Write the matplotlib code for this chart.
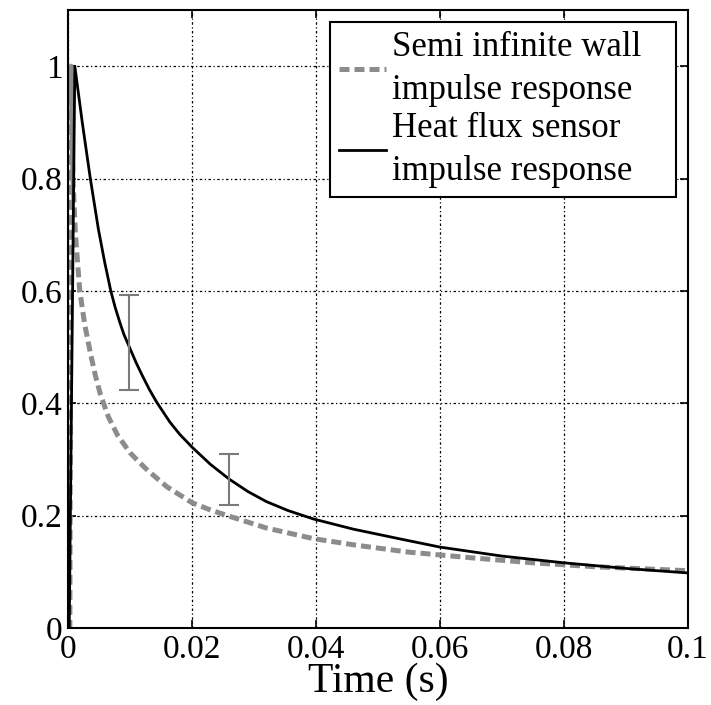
import numpy as np
import matplotlib.pyplot as plt

plt.rcParams['font.family'] = ['Liberation Serif', 'DejaVu Serif']

# semi infinite wall impulse response
t_wall = [0, 0.0003, 0.0005, 0.0008, 0.0012, 0.0019, 0.0027, 0.0036, 0.0044,
          0.0052, 0.0065, 0.008, 0.01, 0.0115, 0.0129, 0.016, 0.02, 0.023,
          0.026, 0.032, 0.0396, 0.0467, 0.055, 0.065, 0.075, 0.085, 0.1]
y_wall = [0, 0, 1.0, 0.8, 0.7, 0.6, 0.54, 0.49, 0.45,
          0.417, 0.376, 0.343, 0.312, 0.295, 0.28, 0.251, 0.223, 0.21,
          0.199, 0.178, 0.159, 0.147, 0.135, 0.125, 0.116, 0.109, 0.102]

# heat flux sensor impulse response
t_sensor = [0, 0.0002, 0.0011, 0.0023, 0.0036, 0.0049, 0.0059, 0.0069, 0.0076,
            0.0083, 0.009, 0.0099, 0.011, 0.012, 0.0131, 0.0143, 0.0164, 0.018,
            0.02, 0.023, 0.026, 0.029, 0.032, 0.0355, 0.0396, 0.046, 0.0538,
            0.06, 0.07, 0.08, 0.09, 0.1]
y_sensor = [0, 0, 1.0, 0.9, 0.8, 0.71, 0.652, 0.6, 0.571,
            0.546, 0.523, 0.5, 0.472, 0.449, 0.425, 0.402, 0.367, 0.345,
            0.322, 0.291, 0.265, 0.243, 0.225, 0.209, 0.194, 0.176, 0.158,
            0.144, 0.128, 0.116, 0.106, 0.098]

# error bars
t_err = [0.0099, 0.0259]
y_lo = [0.424, 0.219]
y_hi = [0.593, 0.31]

fig = plt.figure(figsize=(7.11, 7.05), dpi=100)
ax = fig.add_axes([68/711, 77/705, 620/711, 618/705])

ax.plot(t_wall, y_wall, color='#8c8c8c', lw=3.6, linestyle=(0, (2, 1)),
        label='Semi infinite wall   \nimpulse response')
ax.plot(t_sensor, y_sensor, color='black', lw=2.0,
        label='Heat flux sensor\nimpulse response   ')

y_mid = [(a + b) / 2 for a, b in zip(y_lo, y_hi)]
y_half = [(b - a) / 2 for a, b in zip(y_lo, y_hi)]
ax.errorbar(t_err, y_mid, yerr=y_half, fmt='none', ecolor='#7a7a7a',
            elinewidth=1.5, capsize=7, capthick=1.5)

ax.set_xlim(0, 0.1)
ax.set_ylim(0, 1.1)
ax.set_xticks([0, 0.02, 0.04, 0.06, 0.08, 0.1])
ax.set_xticklabels(['0', '0.02', '0.04', '0.06', '0.08', '0.1'])
ax.set_yticks([0, 0.2, 0.4, 0.6, 0.8, 1.0])
ax.set_yticklabels(['0', '0.2', '0.4', '0.6', '0.8', '1'])
ax.tick_params(direction='in', top=True, right=True, length=6, width=1.2,
               labelsize=24)
ax.tick_params(axis='x', pad=5)
ax.tick_params(axis='y', pad=4)
ax.grid(True, color='black', lw=0.9, linestyle=(0, (2, 2, 1, 2)))
for s in ax.spines.values():
    s.set_linewidth(1.5)

ax.set_xlabel('Time (s)', fontsize=30, labelpad=-2)

leg = ax.legend(loc='upper right', fontsize=25, handlelength=1.35,
                handletextpad=0.17, borderpad=0.25, labelspacing=0.15,
                fancybox=False, framealpha=1, borderaxespad=0.35)
for txt in leg.get_texts():
    txt.set_linespacing(1.4)
leg.get_frame().set_edgecolor('black')
leg.get_frame().set_linewidth(1.5)

fig.savefig('out.png', dpi=100)
